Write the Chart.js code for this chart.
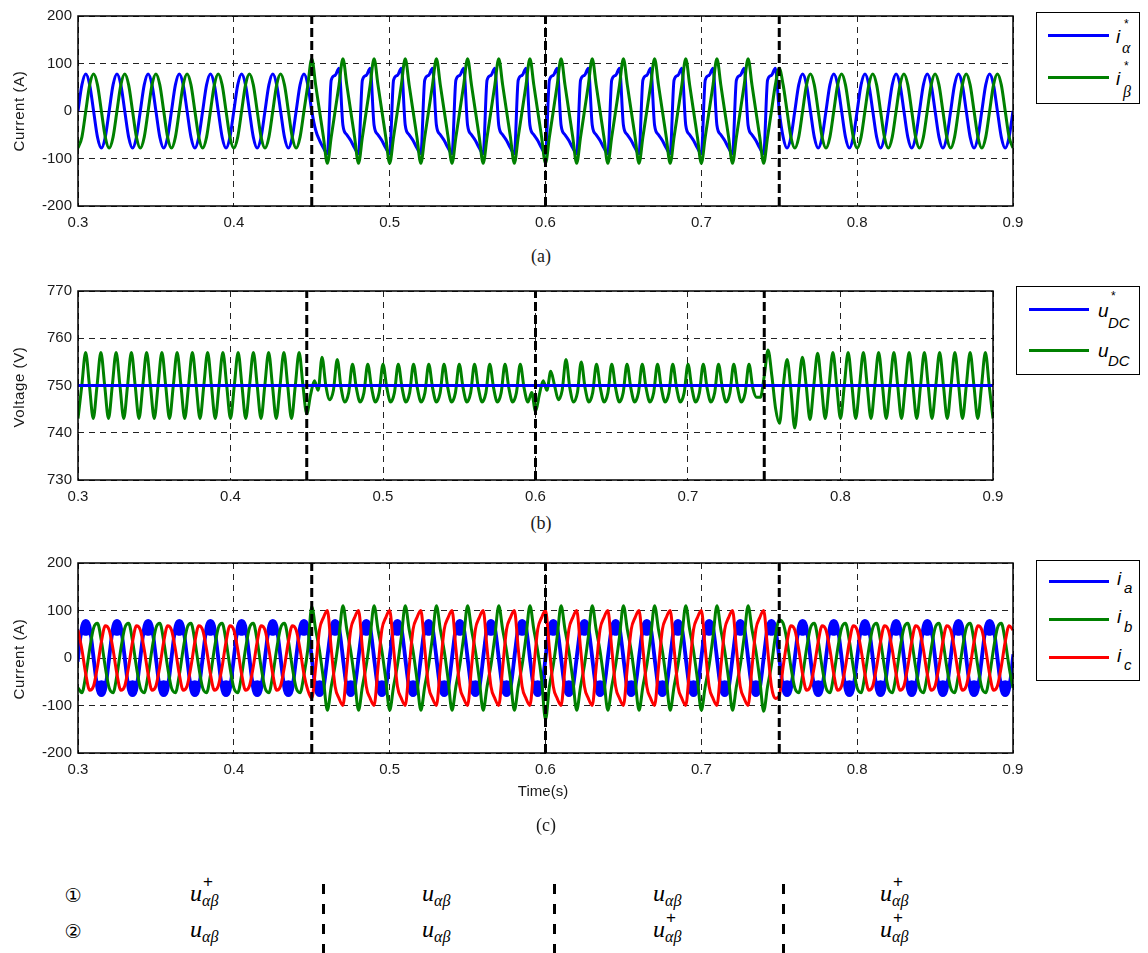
<!DOCTYPE html>
<html>
<head>
<meta charset="utf-8">
<script src="https://cdn.jsdelivr.net/npm/chart.js@4.4.1/dist/chart.umd.min.js"></script>
<style>
  body { margin: 0; background: #fff; }
  #page { position: relative; width: 1148px; height: 953px; overflow: hidden; background: #fff;
          font-family: 'Liberation Sans', Arial, sans-serif; color: #1a1a1a; }
  canvas { position: absolute; left: 0; }
  .ytitle { position: absolute; font-size: 15px; letter-spacing: 0.6px; white-space: nowrap;
            transform: translate(-50%, -50%) rotate(-90deg); }
  .xtitle { position: absolute; font-size: 15px; white-space: nowrap; transform: translate(-50%, -50%); }
  .cap { position: absolute; font-family: 'Liberation Serif', 'Times New Roman', serif; font-size: 18px;
         transform: translate(-50%, -50%); }
  .leg { position: absolute; border: 1px solid #000; box-sizing: border-box; background: #fff; }
  .sw { position: absolute; height: 3px; }
  .g { position: absolute; line-height: 1; white-space: nowrap; color: #000; }
  .si { font-family: 'Liberation Sans', Arial, sans-serif; font-style: italic; }
  .ti { font-family: 'Liberation Serif', 'Times New Roman', serif; font-style: italic; }
  .circ { position: absolute; font-family: 'DejaVu Sans', sans-serif; font-weight: normal; font-size: 19px; line-height: 1;
          transform: translate(-50%, -50%); color: #000; }
  .sep { position: absolute; width: 3px; top: 884px; height: 69px;
         background: repeating-linear-gradient(to bottom, #000 0 10px, transparent 10px 20px); }
</style>
</head>
<body>
<div id="page">
  <canvas id="ca"></canvas>
  <canvas id="cb"></canvas>
  <canvas id="cc"></canvas>

  <div class="ytitle" style="left:18px;top:111px">Current (A)</div>
  <div class="ytitle" style="left:18px;top:387px">Voltage (V)</div>
  <div class="ytitle" style="left:18px;top:659px">Current (A)</div>
  <div class="xtitle" style="left:543px;top:790px">Time(s)</div>

  <div class="cap" style="left:541px;top:256px">(a)</div>
  <div class="cap" style="left:541px;top:523px">(b)</div>
  <div class="cap" style="left:546px;top:825px">(c)</div>

  <!-- legend (a) -->
  <div class="leg" style="left:1036px;top:12px;width:104px;height:92px"></div>
  <div class="sw" style="left:1048px;top:34px;width:61px;background:#0000ff"></div>
  <div class="sw" style="left:1048px;top:76px;width:61px;background:#008000"></div>
  <span class="g si" style="left:1116px;top:27px;font-size:19px">i</span>
  <span class="g" style="left:1124px;top:18px;font-size:12px">*</span>
  <span class="g ti" style="left:1122px;top:40px;font-size:16px">α</span>
  <span class="g si" style="left:1116px;top:69px;font-size:19px">i</span>
  <span class="g" style="left:1124px;top:60px;font-size:12px">*</span>
  <span class="g ti" style="left:1123px;top:84px;font-size:16px">β</span>

  <!-- legend (b) -->
  <div class="leg" style="left:1016px;top:286px;width:124px;height:89px"></div>
  <div class="sw" style="left:1029px;top:308px;width:60px;background:#0000ff"></div>
  <div class="sw" style="left:1029px;top:349px;width:60px;background:#008000"></div>
  <span class="g si" style="left:1098px;top:301px;font-size:19px">u</span>
  <span class="g" style="left:1111px;top:290px;font-size:12px">*</span>
  <span class="g si" style="left:1108px;top:315px;font-size:15px">DC</span>
  <span class="g si" style="left:1098px;top:341px;font-size:19px">u</span>
  <span class="g si" style="left:1108px;top:353px;font-size:15px">DC</span>

  <!-- legend (c) -->
  <div class="leg" style="left:1036px;top:560px;width:104px;height:121px"></div>
  <div class="sw" style="left:1049px;top:580px;width:60px;background:#0000ff"></div>
  <div class="sw" style="left:1049px;top:618px;width:60px;background:#008000"></div>
  <div class="sw" style="left:1049px;top:656px;width:60px;background:#ff0000"></div>
  <span class="g si" style="left:1117px;top:569px;font-size:19px">i</span>
  <span class="g si" style="left:1124px;top:580px;font-size:15px">a</span>
  <span class="g si" style="left:1117px;top:607px;font-size:19px">i</span>
  <span class="g si" style="left:1124px;top:619px;font-size:15px">b</span>
  <span class="g si" style="left:1117px;top:646px;font-size:19px">i</span>
  <span class="g si" style="left:1124px;top:657px;font-size:15px">c</span>

  <div id="table"></div>
</div>

<script>
// time base of every trace (s); one row = one 50 Hz period
const T = [
  0.3000,0.3025,0.3050,0.3075,0.3100,0.3125,0.3150,0.3175,
  0.3200,0.3225,0.3250,0.3275,0.3300,0.3325,0.3350,0.3375,
  0.3400,0.3425,0.3450,0.3475,0.3500,0.3525,0.3550,0.3575,
  0.3600,0.3625,0.3650,0.3675,0.3700,0.3725,0.3750,0.3775,
  0.3800,0.3825,0.3850,0.3875,0.3900,0.3925,0.3950,0.3975,
  0.4000,0.4025,0.4050,0.4075,0.4100,0.4125,0.4150,0.4175,
  0.4200,0.4225,0.4250,0.4275,0.4300,0.4325,0.4350,0.4375,
  0.4400,0.4425,0.4450,0.4475,0.4500,0.4525,0.4550,0.4575,
  0.4600,0.4625,0.4650,0.4675,0.4700,0.4725,0.4750,0.4775,
  0.4800,0.4825,0.4850,0.4875,0.4900,0.4925,0.4950,0.4975,
  0.5000,0.5025,0.5050,0.5075,0.5100,0.5125,0.5150,0.5175,
  0.5200,0.5225,0.5250,0.5275,0.5300,0.5325,0.5350,0.5375,
  0.5400,0.5425,0.5450,0.5475,0.5500,0.5525,0.5550,0.5575,
  0.5600,0.5625,0.5650,0.5675,0.5700,0.5725,0.5750,0.5775,
  0.5800,0.5825,0.5850,0.5875,0.5900,0.5925,0.5950,0.5975,
  0.6000,0.6025,0.6050,0.6075,0.6100,0.6125,0.6150,0.6175,
  0.6200,0.6225,0.6250,0.6275,0.6300,0.6325,0.6350,0.6375,
  0.6400,0.6425,0.6450,0.6475,0.6500,0.6525,0.6550,0.6575,
  0.6600,0.6625,0.6650,0.6675,0.6700,0.6725,0.6750,0.6775,
  0.6800,0.6825,0.6850,0.6875,0.6900,0.6925,0.6950,0.6975,
  0.7000,0.7025,0.7050,0.7075,0.7100,0.7125,0.7150,0.7175,
  0.7200,0.7225,0.7250,0.7275,0.7300,0.7325,0.7350,0.7375,
  0.7400,0.7425,0.7450,0.7475,0.7500,0.7525,0.7550,0.7575,
  0.7600,0.7625,0.7650,0.7675,0.7700,0.7725,0.7750,0.7775,
  0.7800,0.7825,0.7850,0.7875,0.7900,0.7925,0.7950,0.7975,
  0.8000,0.8025,0.8050,0.8075,0.8100,0.8125,0.8150,0.8175,
  0.8200,0.8225,0.8250,0.8275,0.8300,0.8325,0.8350,0.8375,
  0.8400,0.8425,0.8450,0.8475,0.8500,0.8525,0.8550,0.8575,
  0.8600,0.8625,0.8650,0.8675,0.8700,0.8725,0.8750,0.8775,
  0.8800,0.8825,0.8850,0.8875,0.8900,0.8925,0.8950,0.8975,
  0.9000
];

// (a) current references i*alpha / i*beta (A)
const iAlphaRef = [
  0,55,78,55,0,-55,-78,-55,
  0,55,78,55,0,-55,-78,-55,
  0,55,78,55,0,-55,-78,-55,
  0,55,78,55,0,-55,-78,-55,
  0,55,78,55,0,-55,-78,-55,
  0,55,78,55,0,-55,-78,-55,
  0,55,78,55,0,-55,-78,-55,
  0,55,78,55,0,-40,-62,-78,
  -90,65,75,90,-30,-50,-62,-78,
  -90,65,75,90,-30,-50,-62,-78,
  -90,65,75,90,-30,-50,-62,-78,
  -90,65,75,90,-30,-50,-62,-78,
  -90,65,75,90,-30,-50,-62,-78,
  -90,65,75,90,-30,-50,-62,-78,
  -90,65,75,90,-30,-50,-62,-78,
  -90,65,75,90,-30,-50,-62,-78,
  -90,65,75,90,-30,-50,-62,-78,
  -90,65,75,90,-30,-50,-62,-78,
  -90,65,75,90,-30,-50,-62,-78,
  -90,65,75,90,-30,-50,-62,-78,
  -90,65,75,90,-30,-50,-62,-78,
  -90,65,75,90,-30,-50,-62,-78,
  -90,65,75,90,0,-55,-78,-55,
  0,55,78,55,0,-55,-78,-55,
  0,55,78,55,0,-55,-78,-55,
  0,55,78,55,0,-55,-78,-55,
  0,55,78,55,0,-55,-78,-55,
  0,55,78,55,0,-55,-78,-55,
  0,55,78,55,0,-55,-78,-55,
  0,55,78,55,0,-55,-78,-55,
  0
];
const iBetaRef = [
  -78,-55,0,55,78,55,0,-55,
  -78,-55,0,55,78,55,0,-55,
  -78,-55,0,55,78,55,0,-55,
  -78,-55,0,55,78,55,0,-55,
  -78,-55,0,55,78,55,0,-55,
  -78,-55,0,55,78,55,0,-55,
  -78,-55,0,55,78,55,0,-55,
  -78,-55,0,55,110,55,0,-55,
  -110,-55,0,55,110,55,0,-55,
  -110,-55,0,55,110,55,0,-55,
  -110,-55,0,55,110,55,0,-55,
  -110,-55,0,55,110,55,0,-55,
  -110,-55,0,55,110,55,0,-55,
  -110,-55,0,55,110,55,0,-55,
  -110,-55,0,55,110,55,0,-55,
  -110,-55,0,55,110,55,0,-55,
  -110,-55,0,55,110,55,0,-55,
  -110,-55,0,55,110,55,0,-55,
  -110,-55,0,55,110,55,0,-55,
  -110,-55,0,55,110,55,0,-55,
  -110,-55,0,55,110,55,0,-55,
  -110,-55,0,55,110,55,0,-55,
  -110,-55,0,55,90,55,0,-55,
  -78,-55,0,55,78,55,0,-55,
  -78,-55,0,55,78,55,0,-55,
  -78,-55,0,55,78,55,0,-55,
  -78,-55,0,55,78,55,0,-55,
  -78,-55,0,55,78,55,0,-55,
  -78,-55,0,55,78,55,0,-55,
  -78,-55,0,55,78,55,0,-55,
  -78
];

// (b) dc-link voltage (V)
const uDcRefT = [0.3, 0.9];
const uDcRef = [750, 750];
const uDc = [
  743,750,757,750,743,750,757,750,
  743,750,757,750,743,750,757,750,
  743,750,757,750,743,750,757,750,
  743,750,757,750,743,750,757,750,
  743,750,757,750,743,750,757,750,
  743,750,757,750,743,750,757,750,
  743,750,757,750,743,750,757,750,
  743,750,757,750,744,748,751,749,
  756,750,747,749,755.5,749.5,746.5,748.5,
  754.5,749.5,746.5,748.5,754.5,749.5,746.5,748.5,
  754.5,749.5,746.5,748.5,754.5,749.5,746.5,748.5,
  754.5,749.5,746.5,748.5,754.5,749.5,746.5,748.5,
  754.5,749.5,746.5,748.5,754.5,749.5,746.5,748.5,
  754.5,749.5,746.5,748.5,754.5,749.5,746.5,748.5,
  754.5,749.5,746.5,748.5,754.5,749.5,746.5,748.5,
  744.5,748,751,749,753,750,747,749,
  755.5,749.5,746.5,748.5,755,749.5,746.5,748.5,
  754.5,749.5,746.5,748.5,754.5,749.5,746.5,748.5,
  754.5,749.5,746.5,748.5,754.5,749.5,746.5,748.5,
  754.5,749.5,746.5,748.5,754.5,749.5,746.5,748.5,
  754.5,749.5,746.5,748.5,754.5,749.5,746.5,748.5,
  754.5,749.5,746.5,748.5,754.5,749.5,746.5,748.5,
  754.5,749.5,747.5,747.5,752,757.5,752,745,
  742,750,755.5,749,741,749,756,750,
  742.8,750,756.8,750,743,750,757,750,
  743,750,757,750,743,750,757,750,
  743,750,757,750,743,750,757,750,
  743,750,757,750,743,750,757,750,
  743,750,757,750,743,750,757,750,
  743,750,757,750,743,750,757,750,
  743
];

// (c) phase currents (A); ia carries a wide ripple, given by its upper and lower edge
const iaHi = [
  8,68,79,68,8,-52,-50,-52, 8,68,79,68,8,-52,-50,-52, 8,68,79,68,8,-52,-50,-52,
  8,68,79,68,8,-52,-50,-52, 8,68,79,68,8,-52,-50,-52, 8,68,79,68,8,-52,-50,-52,
  8,68,79,68,8,-52,-50,-52, 8,68,79,68,8,-52,-50,-52, 8,68,79,68,8,-52,-50,-52,
  8,68,79,68,8,-52,-50,-52, 8,68,79,68,8,-52,-50,-52, 8,68,79,68,8,-52,-50,-52,
  8,68,79,68,8,-52,-50,-52, 8,68,79,68,8,-52,-50,-52, 8,68,79,68,8,-52,-50,-52,
  8,68,79,68,8,-52,-50,-52, 8,68,79,68,8,-52,-50,-52, 8,68,79,68,8,-52,-50,-52,
  8,68,79,68,8,-52,-50,-52, 8,68,79,68,8,-52,-50,-52, 8,68,79,68,8,-52,-50,-52,
  8,68,79,68,8,-52,-50,-52, 8,68,79,68,8,-52,-50,-52, 8,68,79,68,8,-52,-50,-52,
  8,68,79,68,8,-52,-50,-52, 8,68,79,68,8,-52,-50,-52, 8,68,79,68,8,-52,-50,-52,
  8,68,79,68,8,-52,-50,-52, 8,68,79,68,8,-52,-50,-52, 8,68,79,68,8,-52,-50,-52,
  8
];
const iaLo = [
  -8,52,50,52,-8,-68,-79,-68, -8,52,50,52,-8,-68,-79,-68, -8,52,50,52,-8,-68,-79,-68,
  -8,52,50,52,-8,-68,-79,-68, -8,52,50,52,-8,-68,-79,-68, -8,52,50,52,-8,-68,-79,-68,
  -8,52,50,52,-8,-68,-79,-68, -8,52,50,52,-8,-68,-79,-68, -8,52,50,52,-8,-68,-79,-68,
  -8,52,50,52,-8,-68,-79,-68, -8,52,50,52,-8,-68,-79,-68, -8,52,50,52,-8,-68,-79,-68,
  -8,52,50,52,-8,-68,-79,-68, -8,52,50,52,-8,-68,-79,-68, -8,52,50,52,-8,-68,-79,-68,
  -8,52,50,52,-8,-68,-79,-68, -8,52,50,52,-8,-68,-79,-68, -8,52,50,52,-8,-68,-79,-68,
  -8,52,50,52,-8,-68,-79,-68, -8,52,50,52,-8,-68,-79,-68, -8,52,50,52,-8,-68,-79,-68,
  -8,52,50,52,-8,-68,-79,-68, -8,52,50,52,-8,-68,-79,-68, -8,52,50,52,-8,-68,-79,-68,
  -8,52,50,52,-8,-68,-79,-68, -8,52,50,52,-8,-68,-79,-68, -8,52,50,52,-8,-68,-79,-68,
  -8,52,50,52,-8,-68,-79,-68, -8,52,50,52,-8,-68,-79,-68, -8,52,50,52,-8,-68,-79,-68,
  -8
];
const ib = [
  -63,-73,-36,19,63,73,36,-19,
  -63,-73,-36,19,63,73,36,-19,
  -63,-73,-36,19,63,73,36,-19,
  -63,-73,-36,19,63,73,36,-19,
  -63,-73,-36,19,63,73,36,-19,
  -63,-73,-36,19,63,73,36,-19,
  -63,-73,-36,19,63,73,36,-19,
  -63,-73,-36,19,108,60,15,-45,
  -110,-60,-15,45,110,60,15,-45,
  -110,-60,-15,45,110,60,15,-45,
  -110,-60,-15,45,110,60,15,-45,
  -110,-60,-15,45,110,60,15,-45,
  -110,-60,-15,45,110,60,15,-45,
  -110,-60,-15,45,110,60,15,-45,
  -110,-60,-15,45,110,60,15,-45,
  -130,-60,-15,45,110,60,15,-45,
  -110,-60,-15,45,110,60,15,-45,
  -110,-60,-15,45,110,60,15,-45,
  -110,-60,-15,45,110,60,15,-45,
  -110,-60,-15,45,110,60,15,-45,
  -110,-60,-15,45,110,60,15,-45,
  -110,-60,-15,45,110,60,15,-45,
  -112,-60,-15,45,80,73,36,-19,
  -63,-73,-36,19,63,73,36,-19,
  -63,-73,-36,19,63,73,36,-19,
  -63,-73,-36,19,63,73,36,-19,
  -63,-73,-36,19,63,73,36,-19,
  -63,-73,-36,19,63,73,36,-19,
  -63,-73,-36,19,63,73,36,-19,
  -63,-73,-36,19,63,73,36,-19,
  -63
];
const ic = [
  59,18,-34,-68,-59,-18,34,68,
  59,18,-34,-68,-59,-18,34,68,
  59,18,-34,-68,-59,-18,34,68,
  59,18,-34,-68,-59,-18,34,68,
  59,18,-34,-68,-59,-18,34,68,
  59,18,-34,-68,-59,-18,34,68,
  59,18,-34,-68,-59,-18,34,68,
  59,18,-34,-68,-85,-20,60,85,
  100,20,-60,-85,-100,-20,60,85,
  100,20,-60,-85,-100,-20,60,85,
  100,20,-60,-85,-100,-20,60,85,
  100,20,-60,-85,-100,-20,60,85,
  100,20,-60,-85,-100,-20,60,85,
  100,20,-60,-85,-100,-20,60,85,
  100,20,-60,-85,-100,-20,60,85,
  100,20,-60,-85,-100,-20,60,85,
  100,20,-60,-85,-100,-20,60,85,
  100,20,-60,-85,-100,-20,60,85,
  100,20,-60,-85,-100,-20,60,85,
  100,20,-60,-85,-100,-20,60,85,
  100,20,-60,-85,-100,-20,60,85,
  100,20,-60,-85,-100,-20,60,85,
  100,20,-60,-85,-80,-18,34,68,
  59,18,-34,-68,-59,-18,34,68,
  59,18,-34,-68,-59,-18,34,68,
  59,18,-34,-68,-59,-18,34,68,
  59,18,-34,-68,-59,-18,34,68,
  59,18,-34,-68,-59,-18,34,68,
  59,18,-34,-68,-59,-18,34,68,
  59,18,-34,-68,-59,-18,34,68,
  59
];

// switching instants and axis ticks
const eventT = [0.45, 0.6, 0.75];
const xTicks = [0.3, 0.4, 0.5, 0.6, 0.7, 0.8, 0.9];
const yTicksCur = [-200, -100, 0, 100, 200];
const yTicksVolt = [730, 740, 750, 760, 770];

// bottom table: superscript per column, per row
const tableMarks = ['①', '②'];
const tableSup = [['+', '', '', '+'], ['', '', '+', '+']];

Chart.defaults.font.family = "'Liberation Sans', Arial, sans-serif";
Chart.defaults.font.size = 15;
Chart.defaults.color = '#1a1a1a';

const pts = (ts, vs) => ts.map((t, i) => ({ x: t, y: vs[i] }));

function trace(data, color, order, extra) {
    return Object.assign({
        data, borderColor: color, backgroundColor: color, borderWidth: 3,
        pointRadius: 0, fill: false, cubicInterpolationMode: 'monotone', order
    }, extra || {});
}

function eventLines(lo, hi) {
    return eventT.map(t => ({
        data: [{ x: t, y: lo }, { x: t, y: hi }],
        borderColor: '#000', borderWidth: 3, borderDash: [9, 4],
        pointRadius: 0, fill: false, order: 0
    }));
}

// box around the plot, plus the solid zero line of panel (a)
const frame = {
    id: 'frame',
    beforeDatasetsDraw(chart, args, opts) {
        if (!opts.zero) return;
        const { ctx, chartArea: a } = chart;
        const y = Math.round(chart.scales.y.getPixelForValue(0)) + 0.5;
        ctx.save();
        ctx.strokeStyle = '#000';
        ctx.lineWidth = 1;
        ctx.setLineDash([]);
        ctx.beginPath();
        ctx.moveTo(a.left, y);
        ctx.lineTo(a.right, y);
        ctx.stroke();
        ctx.restore();
    },
    afterDatasetsDraw(chart) {
        const { ctx, chartArea: a } = chart;
        ctx.save();
        ctx.strokeStyle = '#000';
        ctx.lineWidth = 1.5;
        ctx.setLineDash([]);
        ctx.strokeRect(Math.round(a.left), Math.round(a.top), Math.round(a.right - a.left), Math.round(a.bottom - a.top));
        ctx.restore();
    }
};

function makeChart(id, geo, yMin, yMax, yTicks, datasets, zero) {
    const cv = document.getElementById(id);
    cv.width = 1148;
    cv.height = geo.bottom - geo.top + 40;
    cv.style.top = (geo.top - 10) + 'px';
    const grid = { color: '#222', lineWidth: 1, drawTicks: false };
    const border = { display: false, dash: [6, 5] };
    return new Chart(cv, {
        type: 'line',
        data: { datasets },
        options: {
            responsive: false,
            animation: false,
            devicePixelRatio: 1,
            layout: { padding: { top: 10, right: 1148 - geo.right, left: 0, bottom: 0 } },
            plugins: { legend: { display: false }, tooltip: { enabled: false }, frame: { zero } },
            scales: {
                x: {
                    type: 'linear', min: 0.3, max: 0.9,
                    afterBuildTicks: s => { s.ticks = xTicks.map(v => ({ value: v })); },
                    afterFit: s => { s.height = 30; },
                    ticks: { padding: 8, maxRotation: 0, autoSkip: false, callback: v => v.toFixed(1) },
                    grid, border
                },
                y: {
                    type: 'linear', min: yMin, max: yMax,
                    afterBuildTicks: s => { s.ticks = yTicks.map(v => ({ value: v })); },
                    afterFit: s => { s.width = 78; },
                    ticks: { padding: 6, autoSkip: false, callback: v => String(v) },
                    grid, border
                }
            }
        },
        plugins: [frame]
    });
}

makeChart('ca', { top: 11, bottom: 206, right: 1013 }, -200, 200, yTicksCur, [
    trace(pts(T, iAlphaRef), '#0000ff', 2),
    trace(pts(T, iBetaRef), '#008000', 1),
    ...eventLines(-200, 200)
], true);

makeChart('cb', { top: 286, bottom: 480, right: 993 }, 730, 770, yTicksVolt, [
    trace(pts(uDcRefT, uDcRef), '#0000ff', 1),
    trace(pts(T, uDc), '#008000', 2),
    ...eventLines(730, 770)
], false);

makeChart('cc', { top: 558, bottom: 753, right: 1013 }, -200, 200, yTicksCur, [
    trace(pts(T, iaHi), '#0000ff', 3, { borderWidth: 3, fill: '+1' }),
    trace(pts(T, iaLo), '#0000ff', 3, { borderWidth: 3 }),
    trace(pts(T, ib), '#008000', 2),
    trace(pts(T, ic), '#ff0000', 1),
    ...eventLines(-200, 200)
], false);

// bottom table of the sequence used in each interval
const tableCols = [207, 439, 670, 897];
const tableSeps = [323, 554, 783];
const rowBase = [901, 937];
const tbl = document.getElementById('table');
function add(cls, text, left, top, size) {
    const el = document.createElement('span');
    el.className = cls;
    el.textContent = text;
    el.style.left = left + 'px';
    el.style.top = top + 'px';
    if (size) el.style.fontSize = size + 'px';
    tbl.appendChild(el);
}
tableMarks.forEach((mk, r) => {
    add('circ', mk, 73, rowBase[r] - 6);
    tableSup[r].forEach((sup, c) => {
        const x = tableCols[c] - 17;
        add('g ti', 'u', x, rowBase[r] - 20, 24);
        add('g ti', 'αβ', x + 12, rowBase[r] - 8, 16);
        if (sup) add('g', sup, x + 13, rowBase[r] - 28, 17);
    });
});
tableSeps.forEach(x => {
    const d = document.createElement('div');
    d.className = 'sep';
    d.style.left = (x - 1) + 'px';
    tbl.appendChild(d);
});
</script>
</body>
</html>
